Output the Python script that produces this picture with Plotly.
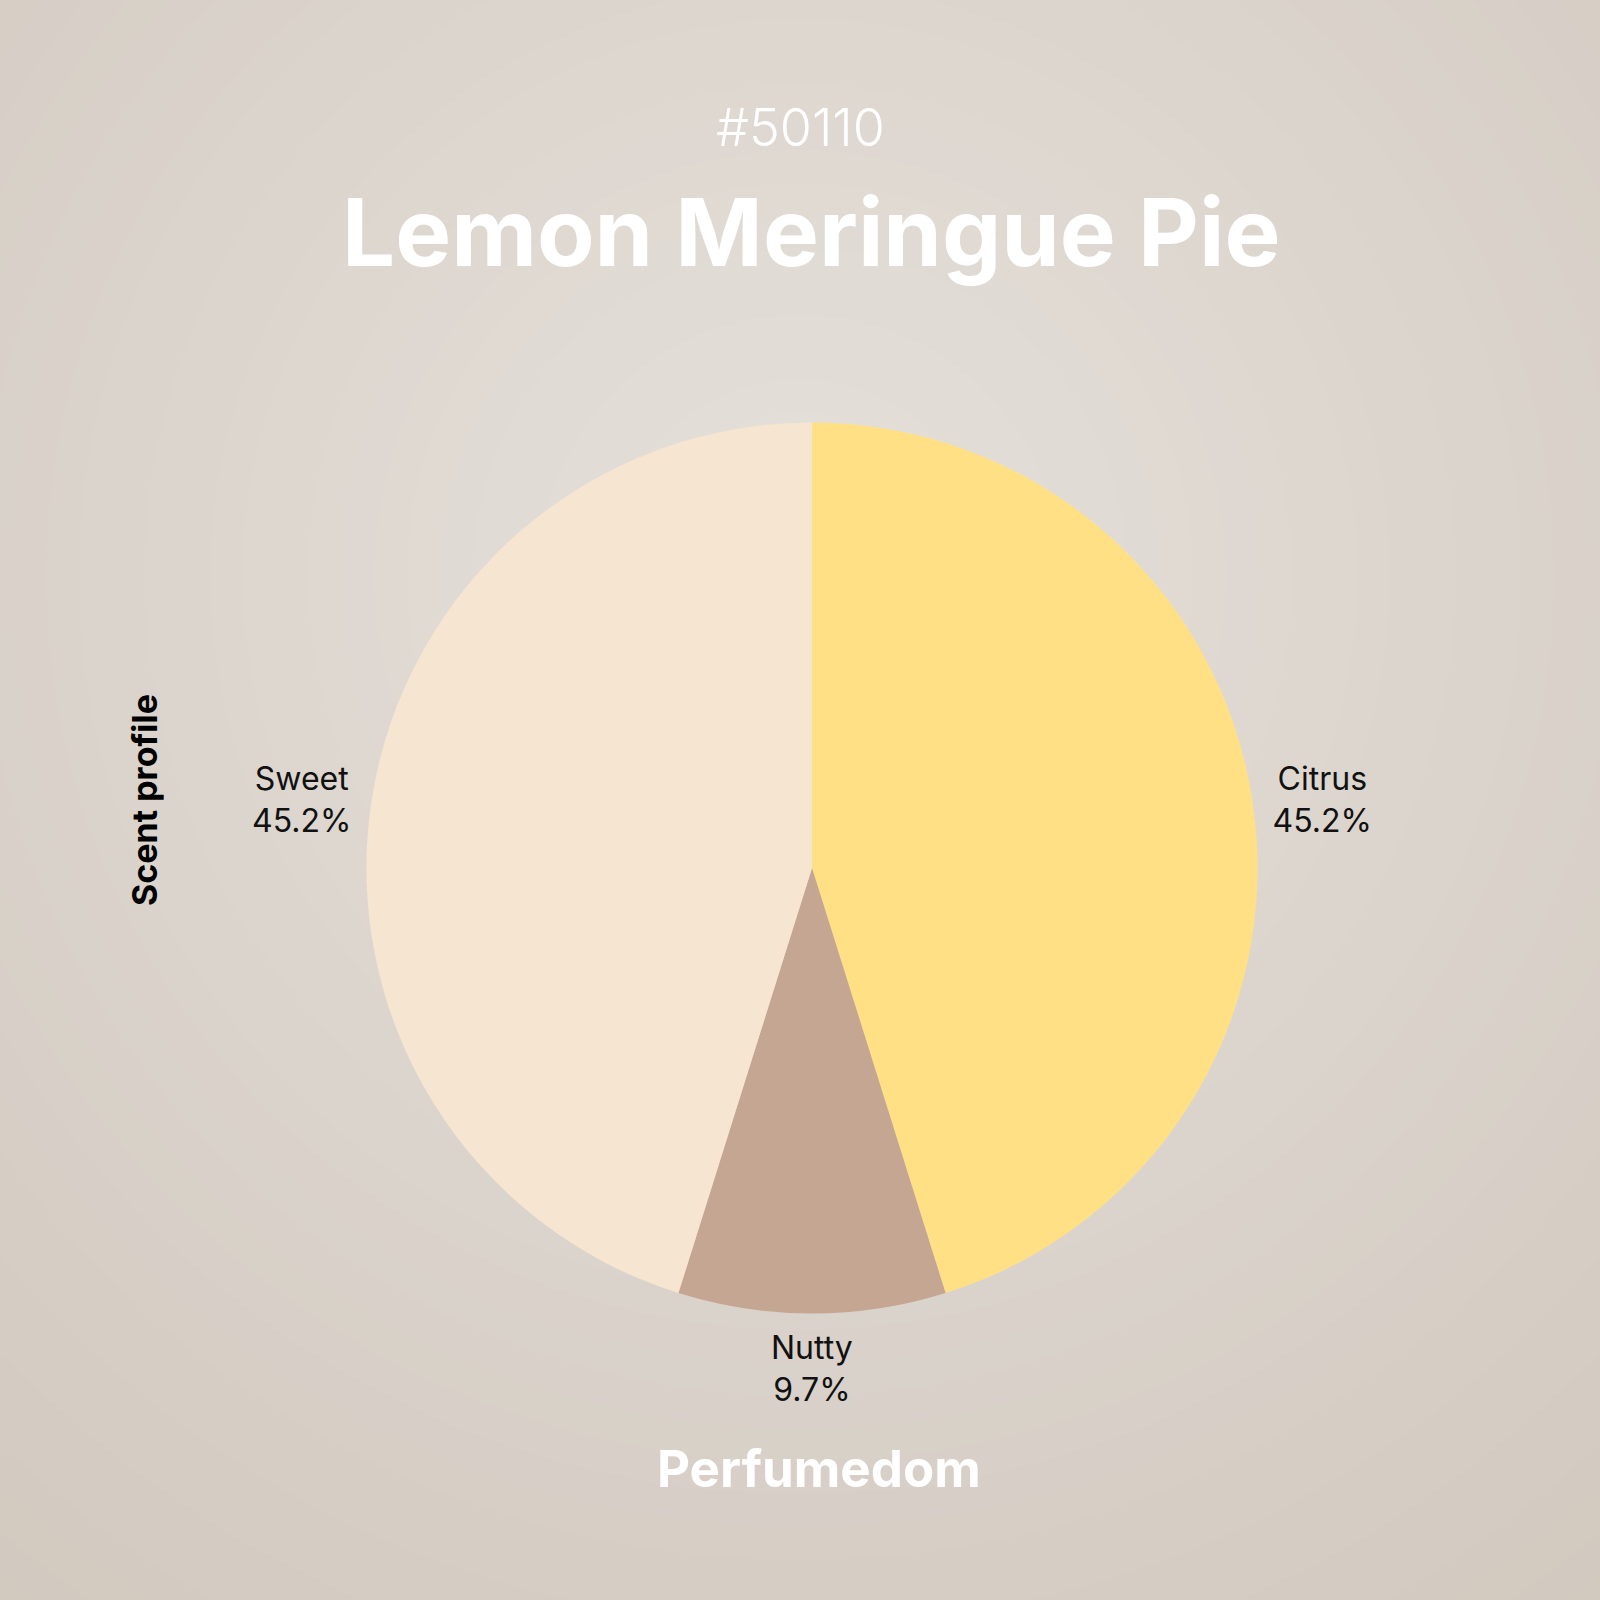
import math
import plotly.graph_objects as go

# scent profile data
labels = ["Citrus", "Nutty", "Sweet"]
values = [45.2, 9.7, 45.2]
colors = ["#FFE084", "#C4A693", "#F5E5D1"]

code = "#50110"
perfume = "Lemon Meringue Pie"
brand = "Perfumedom"
side_title = "Scent profile"

FONT = "Inter"
PIE_X = [0.229, 0.786]
PIE_Y = [0.179, 0.736]

# the bottom slice label is drawn as an annotation so it sits centred under its slice
bottom = 1
templates = ["%{label}<br>%{percent:.1%}"] * len(labels)
templates[bottom] = " "

fig = go.Figure()

fig.add_trace(go.Pie(
    labels=labels, values=values,
    marker=dict(colors=colors, line=dict(width=0)),
    sort=False, direction="clockwise", rotation=0,
    textinfo="label+percent", textposition="outside",
    texttemplate=templates,
    textfont=dict(family=FONT, size=32, color="#111111"),
    showlegend=False, hoverinfo="skip",
    domain=dict(x=PIE_X, y=PIE_Y),
))

# position of the bottom label from the slice's mid angle (clockwise from 12 o'clock)
total = sum(values)
mid = (sum(values[:bottom]) + values[bottom] / 2) / total * 2 * math.pi
cx, cy = sum(PIE_X) / 2, sum(PIE_Y) / 2
r = (PIE_X[1] - PIE_X[0]) / 2 + 0.008
nutty_note = dict(
    text="%s<br>%.1f%%" % (labels[bottom], values[bottom] / total * 100),
    x=cx + r * math.sin(mid), y=cy + r * math.cos(mid),
    xref="paper", yref="paper", showarrow=False, xanchor="center", yanchor="top",
    font=dict(family=FONT, size=32, color="#111111"),
)

# soft radial background, light in the middle, darker toward the corners
outer = (210, 201, 191)
inner = (229, 224, 219)
n = 40
shapes = []
for i in range(n):
    t = i / (n - 1)
    rr = 0.8 * (1 - t) + 0.02
    c = tuple(int(round(outer[k] + (inner[k] - outer[k]) * t)) for k in range(3))
    shapes.append(dict(
        type="circle", xref="paper", yref="paper", layer="below",
        x0=0.5 - rr, x1=0.5 + rr, y0=0.64 - rr, y1=0.64 + rr,
        fillcolor="rgb(%d,%d,%d)" % c, line=dict(width=0),
    ))

fig.update_layout(
    width=1600, height=1600,
    margin=dict(l=0, r=0, t=0, b=0),
    paper_bgcolor="rgb(%d,%d,%d)" % outer,
    plot_bgcolor="rgba(0,0,0,0)",
    shapes=shapes,
    annotations=[
        dict(text=code, x=0.5, y=0.920, xref="paper", yref="paper", showarrow=False,
             xanchor="center", yanchor="middle",
             font=dict(family=FONT, size=52, color="white", weight=300)),
        dict(text="<b>%s</b>" % perfume, x=0.507, y=0.855, xref="paper", yref="paper", showarrow=False,
             xanchor="center", yanchor="middle",
             font=dict(family=FONT, size=94, color="white")),
        dict(text="<b>%s</b>" % side_title, x=0.09, y=0.50, xref="paper", yref="paper", showarrow=False,
             xanchor="center", yanchor="middle",
             textangle=-90, font=dict(family=FONT, size=34, color="black")),
        dict(text="<b>%s</b>" % brand, x=0.512, y=0.082, xref="paper", yref="paper", showarrow=False,
             xanchor="center", yanchor="middle",
             font=dict(family=FONT, size=51, color="white")),
        nutty_note,
    ],
)

fig.write_html("out.html", config={"displayModeBar": False},
               post_script="document.body.style.margin='0';")
